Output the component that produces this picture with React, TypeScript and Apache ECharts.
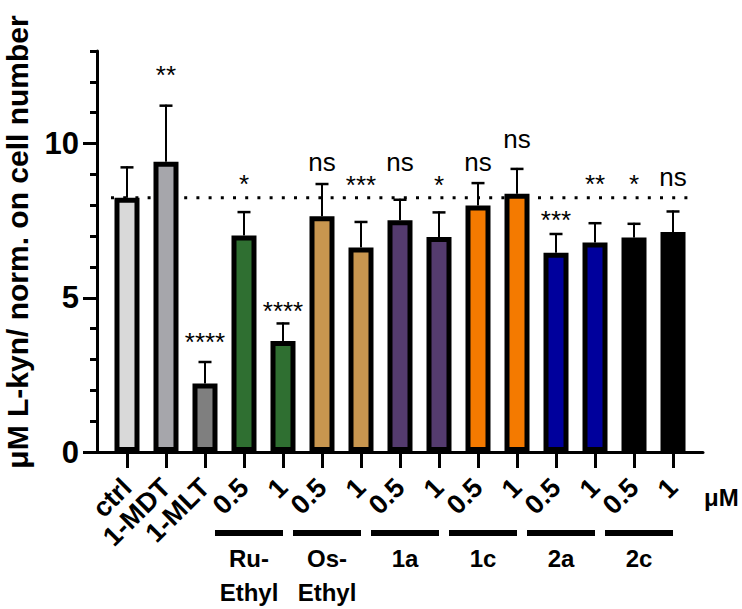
import React, { useEffect, useRef } from "react";
import * as echarts from "echarts";

// ---- data ----
const categories = ["ctrl", "1-MDT", "1-MLT", "0.5", "1", "0.5", "1", "0.5", "1", "0.5", "1", "0.5", "1", "0.5", "1"];
const means = [8.24, 9.41, 2.22, 7.02, 3.6, 7.64, 6.63, 7.51, 6.97, 7.99, 8.37, 6.46, 6.79, 6.95, 7.13];
const sds = [1.02, 1.85, 0.73, 0.79, 0.6, 1.08, 0.86, 0.7, 0.83, 0.76, 0.84, 0.64, 0.66, 0.48, 0.7];
const sigLabels = ["", "**", "****", "*", "****", "ns", "***", "ns", "*", "ns", "ns", "***", "**", "*", "ns"];
const sigLevels = [0, 12.33, 3.65, 8.79, 4.66, 9.36, 8.76, 9.38, 8.75, 9.38, 10.13, 7.63, 8.77, 8.77, 8.88];
const barColors = [
  "#d9d9d9", "#a6a6ab", "#7f7f7f",
  "#2f6f31", "#2f6f31",
  "#c8964f", "#c8964f",
  "#543b6e", "#543b6e",
  "#f47a00", "#f47a00",
  "#00009c", "#00009c",
  "#000000", "#000000",
];
const groupNames = ["Ru-\nEthyl", "Os-\nEthyl", "1a", "1c", "2a", "2c"];
const groupStart = [3, 5, 7, 9, 11, 13];
const yMajorTicks = [0, 5, 10];
const yMinorTicks = [1, 2, 3, 4, 6, 7, 8, 9, 11, 12, 13];
const unitLabel = "μM";
const yTitle = "μM L-kyn/ norm. on cell number";

const FONT = "'Liberation Sans', Arial, sans-serif";

export default function App() {
  const ref = useRef<HTMLDivElement>(null);

  useEffect(() => {
    if (!ref.current) return;
    const chart = echarts.init(ref.current, null, { renderer: "svg" });
    const xTickValues = categories.map((_, i) => i);

    const option: any = {
      animation: false,
      backgroundColor: "#ffffff",
      grid: { left: 97, right: 39, top: 51, bottom: 157, containLabel: false },
      xAxis: {
        type: "value",
        min: -0.769,
        max: 14.769,
        splitLine: { show: false },
        axisLine: { show: true, onZero: false, lineStyle: { color: "#000", width: 3 } },
        axisTick: { show: true, customValues: xTickValues, length: 16, lineStyle: { color: "#000", width: 3 } },
        axisLabel: {
          show: true,
          customValues: xTickValues,
          rotate: 45,
          margin: 31,
          hideOverlap: false,
          showMinLabel: true,
          showMaxLabel: true,
          fontFamily: FONT,
          fontWeight: "bold",
          fontSize: 27,
          color: "#000",
          formatter: (v: number) => categories[Math.round(v)] ?? "",
        },
      },
      yAxis: [
        {
          type: "value",
          min: 0,
          max: 13,
          splitLine: { show: false },
          axisLine: { show: true, onZero: false, lineStyle: { color: "#000", width: 3 } },
          axisTick: { show: true, customValues: yMajorTicks, length: 14, lineStyle: { color: "#000", width: 3 } },
          axisLabel: {
            customValues: yMajorTicks,
            margin: 18,
            hideOverlap: false,
            fontFamily: FONT,
            fontWeight: "bold",
            fontSize: 31,
            color: "#000",
          },
        },
        {
          type: "value",
          min: 0,
          max: 13,
          position: "left",
          splitLine: { show: false },
          axisLine: { show: false, onZero: false },
          axisTick: { show: true, customValues: yMinorTicks, length: 7, lineStyle: { color: "#000", width: 3 } },
          axisLabel: { show: false },
        },
      ],
      graphic: [
        {
          type: "text",
          x: 17,
          y: 242,
          rotation: Math.PI / 2,
          style: {
            text: yTitle,
            font: `bold 30px ${FONT}`,
            fill: "#000",
            align: "center",
            verticalAlign: "middle",
          },
        },
        {
          type: "text",
          x: 704,
          y: 497,
          style: {
            text: unitLabel,
            font: `bold 24px ${FONT}`,
            fill: "#000",
            align: "left",
            verticalAlign: "middle",
          },
        },
      ],
      series: [
        {
          type: "line",
          z: 1,
          symbol: "none",
          silent: true,
          data: [[-0.41, means[0]], [14.44, means[0]]],
          lineStyle: { color: "#000", width: 3, type: [3, 9.2] },
        },
        {
          type: "bar",
          z: 2,
          barWidth: 25,
          data: means.map((m, i) => ({ value: [i, m], itemStyle: { color: barColors[i] } })),
          itemStyle: { borderColor: "#000", borderWidth: 5 },
        },
        {
          type: "custom",
          z: 3,
          data: means.map((m, i) => [i, m, sds[i]]),
          renderItem: (params: any, api: any) => {
            const x = api.value(0);
            const m = api.value(1);
            const s = api.value(2);
            const p0 = api.coord([x, m]);
            const p1 = api.coord([x, m + s]);
            return {
              type: "group",
              children: [
                { type: "line", shape: { x1: p0[0], y1: p0[1], x2: p1[0], y2: p1[1] }, style: { stroke: "#000", lineWidth: 2 } },
                { type: "line", shape: { x1: p1[0] - 6.5, y1: p1[1] + 1, x2: p1[0] + 6.5, y2: p1[1] + 1 }, style: { stroke: "#000", lineWidth: 2.5 } },
              ],
            };
          },
        },
        {
          type: "custom",
          z: 4,
          data: sigLevels.map((l, i) => [i, l]),
          renderItem: (params: any, api: any) => {
            const t = sigLabels[params.dataIndex];
            if (!t) return null;
            const p = api.coord([api.value(0), api.value(1)]);
            const dy = t === "ns" ? -1 : 3;
            return {
              type: "text",
              x: p[0],
              y: p[1] + dy,
              style: { text: t, font: `26px ${FONT}`, fill: "#000", align: "center", verticalAlign: "middle" },
            };
          },
        },
        {
          type: "custom",
          z: 4,
          clip: false,
          data: groupStart.map((s) => [s, 0]),
          renderItem: (params: any, api: any) => {
            const s = api.value(0);
            const a = api.coord([s, 0]);
            const b = api.coord([s + 1, 0]);
            const x0 = a[0] - 29;
            const x1 = b[0];
            const y0 = a[1];
            return {
              type: "group",
              children: [
                { type: "rect", shape: { x: x0, y: y0 + 78, width: x1 - x0, height: 6 }, style: { fill: "#000" } },
                {
                  type: "text",
                  x: (x0 + x1) / 2,
                  y: y0 + 89,
                  style: {
                    text: groupNames[params.dataIndex],
                    font: `bold 24px ${FONT}`,
                    lineHeight: 34,
                    fill: "#000",
                    align: "center",
                    verticalAlign: "top",
                  },
                },
              ],
            };
          },
        },
      ],
    };

    chart.setOption(option);
    return () => chart.dispose();
  }, []);

  return <div ref={ref} style={{ position: "fixed", left: 0, top: 0, width: 742, height: 609 }} />;
}
